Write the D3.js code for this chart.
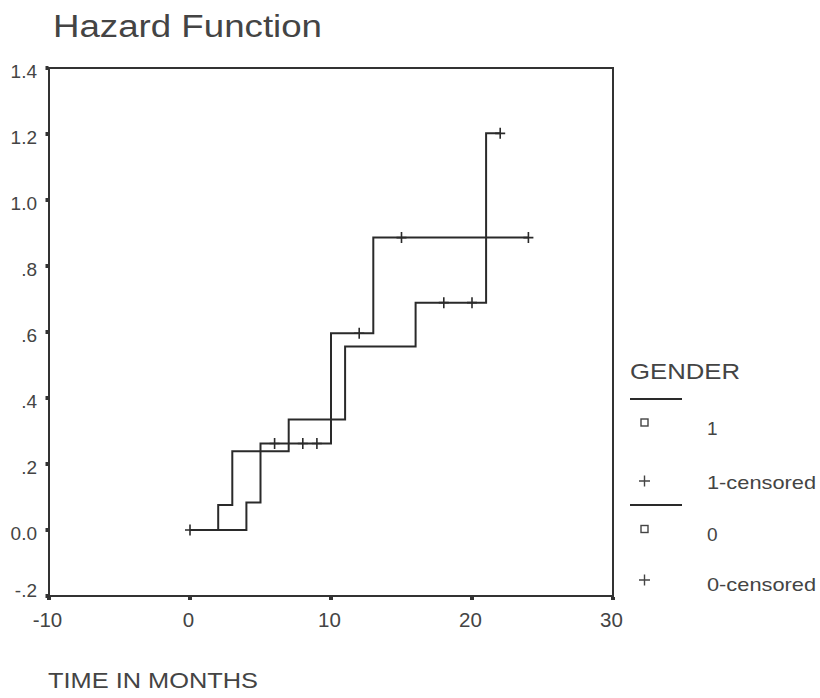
<!DOCTYPE html>
<html>
<head>
<meta charset="utf-8">
<script src="https://cdn.jsdelivr.net/npm/d3@7"></script>
<style>
  html, body { margin: 0; padding: 0; background: #fff; }
  text { font-family: "Liberation Sans", Arial, sans-serif; fill: #444; }
</style>
</head>
<body>
<svg id="chart" width="820" height="698"></svg>
<script>
// ---- Data ----
const xTicks = [-10, 0, 10, 20, 30];
const xTickLabels = ["-10", "0", "10", "20", "30"];
const yTicks = [-0.2, 0, 0.2, 0.4, 0.6, 0.8, 1.0, 1.2, 1.4];
const yTickLabels = ["-.2", "0.0", ".2", ".4", ".6", ".8", "1.0", "1.2", "1.4"];

// GENDER = 1 : step times, cumulative hazard after each step, end time
const g1Times  = [0, 2, 3, 7, 11, 16, 21];
const g1Hazard = [0, 0.076, 0.239, 0.335, 0.556, 0.689, 1.202];
const g1End = 22;
const g1Censored = [18, 20, 22];

// GENDER = 0
const g0Times  = [0, 4, 5, 10, 13];
const g0Hazard = [0, 0.083, 0.262, 0.596, 0.886];
const g0End = 24;
const g0Censored = [0, 6, 8, 9, 12, 15, 24];

const legendTitle = "GENDER";
const legendLabels = ["1", "1-censored", "0", "0-censored"];
const titleText = "Hazard Function";
const xTitle = "TIME IN MONTHS";

// ---- Layout ----
const svg = d3.select("#chart");
const L = 49, R = 613, T = 68, B = 596;
const x = d3.scaleLinear().domain([-10, 30]).range([L, R]);
const y = d3.scaleLinear().domain([-0.2, 1.4]).range([B, T]);
const ink = "#2a2a2a";

// Title
svg.append("text").attr("x", 53).attr("y", 37)
  .attr("font-size", 31).attr("fill", "#4a4a4a")
  .attr("textLength", 269).attr("lengthAdjust", "spacingAndGlyphs")
  .text(titleText);

// Frame
svg.append("rect").attr("x", L).attr("y", T).attr("width", R - L).attr("height", B - T)
  .attr("fill", "none").attr("stroke", "#333").attr("stroke-width", 2);

// Axes (labels via d3 axis)
const yAxis = d3.axisLeft(y).tickValues(yTicks).tickSize(0).tickPadding(12)
  .tickFormat((d, i) => yTickLabels[i]);
const gy = svg.append("g").attr("transform", `translate(${L},0)`).call(yAxis);
gy.select(".domain").remove();
gy.selectAll("text").attr("font-size", 19).attr("fill", "#444")
  .attr("font-family", "Liberation Sans, Arial, sans-serif")
  .attr("dy", (d, i) => i === 0 ? "0.0em" : "0.52em");

const xAxis = d3.axisBottom(x).tickValues(xTicks).tickSize(0).tickPadding(16)
  .tickFormat((d, i) => xTickLabels[i]);
const gx = svg.append("g").attr("transform", `translate(0,${B})`).call(xAxis);
gx.select(".domain").remove();
gx.selectAll("text").attr("font-size", 20.5).attr("fill", "#444")
  .attr("font-family", "Liberation Sans, Arial, sans-serif").attr("dx", "-0.1em");

// Square tick marks outside the frame
svg.append("g").selectAll("rect").data(yTicks).join("rect")
  .attr("x", L - 3.5).attr("y", d => y(d) - 2).attr("width", 3).attr("height", 4)
  .attr("fill", "#333");
svg.append("g").selectAll("rect").data(xTicks).join("rect")
  .attr("x", d => x(d) - 2).attr("y", B + 1).attr("width", 4).attr("height", 3)
  .attr("fill", "#333");

// Step curves
const stepLine = d3.line().x(d => x(d[0])).y(d => y(d[1])).curve(d3.curveStepAfter);
function series(times, hazard, end) {
  const pts = times.map((t, i) => [t, hazard[i]]);
  pts.push([end, hazard[hazard.length - 1]]);
  return pts;
}
function hazardAt(times, hazard, t) {
  let v = hazard[0];
  times.forEach((tt, i) => { if (tt <= t) v = hazard[i]; });
  return v;
}
const groups = [
  { times: g1Times, hazard: g1Hazard, end: g1End, cens: g1Censored },
  { times: g0Times, hazard: g0Hazard, end: g0End, cens: g0Censored }
];
groups.forEach(g => {
  svg.append("path").datum(series(g.times, g.hazard, g.end))
    .attr("d", stepLine).attr("fill", "none")
    .attr("stroke", ink).attr("stroke-width", 2);
  svg.append("g").selectAll("path").data(g.cens).join("path")
    .attr("d", t => {
      const cx = x(t), cy = y(hazardAt(g.times, g.hazard, t));
      return `M${cx - 5},${cy}H${cx + 5}M${cx},${cy - 5.5}V${cy + 5.5}`;
    })
    .attr("stroke", ink).attr("stroke-width", 1.6).attr("fill", "none");
});

// Legend
svg.append("text").attr("x", 630).attr("y", 379).attr("font-size", 22)
  .attr("textLength", 110).attr("lengthAdjust", "spacingAndGlyphs").text(legendTitle);
const legRows = [
  { line: 399, mark: "sq", my: 422.5, ty: 435, label: legendLabels[0], tl: null },
  { line: null, mark: "plus", my: 481, ty: 489, label: legendLabels[1], tl: 109 },
  { line: 505, mark: "sq", my: 529, ty: 541, label: legendLabels[2], tl: null },
  { line: null, mark: "plus", my: 580, ty: 591, label: legendLabels[3], tl: 109 }
];
legRows.forEach(r => {
  if (r.line !== null) {
    svg.append("line").attr("x1", 630).attr("x2", 682).attr("y1", r.line).attr("y2", r.line)
      .attr("stroke", ink).attr("stroke-width", 2);
  }
  if (r.mark === "sq") {
    svg.append("rect").attr("x", 641).attr("y", r.my - 3.5).attr("width", 7).attr("height", 7)
      .attr("fill", "none").attr("stroke", "#444").attr("stroke-width", 1.4);
  } else {
    svg.append("path").attr("d", `M639,${r.my}H650M644.5,${r.my - 5.5}V${r.my + 5.5}`)
      .attr("stroke", "#444").attr("stroke-width", 1.4);
  }
  const t = svg.append("text").attr("x", 707).attr("y", r.ty).attr("font-size", 19).text(r.label);
  if (r.tl) t.attr("textLength", r.tl).attr("lengthAdjust", "spacingAndGlyphs");
});

// X axis title
svg.append("text").attr("x", 48).attr("y", 688).attr("font-size", 22)
  .attr("textLength", 210).attr("lengthAdjust", "spacingAndGlyphs").text(xTitle);
</script>
</body>
</html>
